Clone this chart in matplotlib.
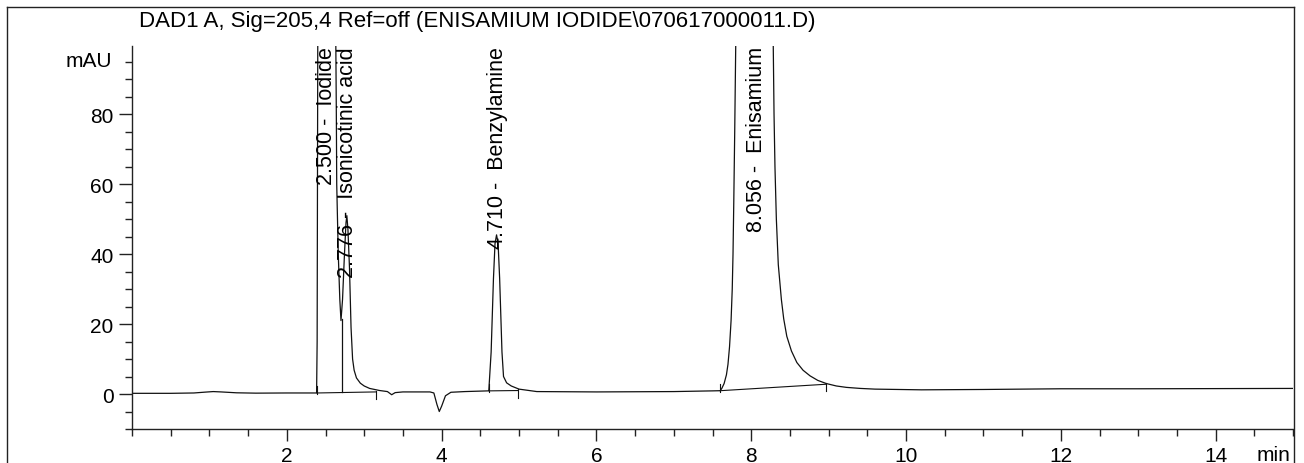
import matplotlib
matplotlib.use("Agg")
import matplotlib.pyplot as plt
from matplotlib.lines import Line2D
from matplotlib.ticker import MultipleLocator

plt.rcParams['font.family'] = ['Liberation Sans', 'DejaVu Sans']

title = "DAD1 A, Sig=205,4 Ref=off (ENISAMIUM IODIDE\\070617000011.D)"

# chromatogram trace (time in min, signal in mAU)
time_min = [0.00, 0.50, 0.80, 0.95, 1.05, 1.15, 1.35, 1.60, 2.00, 2.30, 2.385,
            2.392, 2.40, 2.43, 2.50, 2.58, 2.63, 2.640, 2.645, 2.665, 2.685, 2.70,
            2.72, 2.745, 2.765, 2.776, 2.79, 2.81, 2.83, 2.85, 2.87, 2.90, 2.95,
            3.00, 3.07, 3.20, 3.30, 3.355, 3.40, 3.50, 3.85, 3.90, 3.94, 3.97,
            4.00, 4.05, 4.12, 4.30, 4.60, 4.61, 4.64, 4.67, 4.69, 4.71, 4.73,
            4.75, 4.78, 4.80, 4.84, 4.90, 5.00, 5.23, 6.00, 7.00, 7.50, 7.60,
            7.62, 7.65, 7.68, 7.70, 7.72, 7.74, 7.755, 7.765, 7.775, 7.787, 7.80,
            7.85, 7.95, 8.056, 8.15, 8.23, 8.27, 8.285, 8.295, 8.307, 8.325, 8.35,
            8.39, 8.42, 8.46, 8.52, 8.59, 8.67, 8.76, 8.86, 8.97, 9.10, 9.23,
            9.41, 9.60, 10.20, 11.00, 12.00, 13.00, 14.00, 15.00]
signal_mau = [0.2, 0.2, 0.3, 0.55, 0.7, 0.6, 0.35, 0.25, 0.3, 0.3, 0.3,
              15.0, 99.5, 200.0, 300.0, 200.0, 110.0, 80.0, 60.0, 40.0, 27.0, 21.0,
              27.0, 40.0, 49.0, 51.0, 47.0, 36.0, 19.0, 10.0, 6.8, 4.6, 3.1,
              2.3, 1.6, 1.0, 0.7, -0.2, 0.4, 0.6, 0.6, 0.3, -3.0, -5.0,
              -3.5, -0.5, 0.5, 0.7, 0.9, 1.0, 12.0, 33.0, 43.0, 45.5, 43.0,
              33.0, 12.0, 5.0, 3.2, 2.3, 1.4, 0.7, 0.6, 0.7, 0.9, 0.95,
              1.6, 3.0, 5.5, 8.5, 13.5, 21.0, 30.0, 40.0, 55.0, 75.0, 99.5,
              260.0, 480.0, 560.0, 480.0, 260.0, 140.0, 99.5, 80.0, 65.0, 50.0, 37.0,
              27.0, 21.5, 16.5, 12.3, 9.0, 6.8, 5.2, 3.9, 3.0, 2.3, 1.9,
              1.6, 1.4, 1.2, 1.3, 1.5, 1.5, 1.55, 1.6]

# peak annotations
peak_rt = [2.500, 2.776, 4.710, 8.056]
peak_names = ["Iodide", "Isonicotinic acid", "Benzylamine", "Enisamium"]

# integration baselines: (start time, start level, end time, end level)
base_start_t = [2.39, 4.61, 7.60]
base_start_y = [0.3, 0.9, 0.95]
base_end_t = [3.15, 4.99, 8.97]
base_end_y = [0.6, 1.0, 2.8]
# drop line between the two first peaks
drop_t = [2.709]
drop_low = [0.45]
drop_high = [21.5]

x_major = [2, 4, 6, 8, 10, 12, 14]
y_major = [0, 20, 40, 60, 80]

fig = plt.figure(figsize=(13.04, 4.64), dpi=100)
ax = fig.add_axes([132/1304, 1-430/464, (1293-132)/1304, (430-47)/464])

lc = '#111111'
ax.plot(time_min, signal_mau, color=lc, lw=0.9)

# integration baselines and markers
for ts, ys, te, ye in zip(base_start_t, base_start_y, base_end_t, base_end_y):
    ax.plot([ts, te], [ys, ye], color=lc, lw=0.8)
    ax.plot([ts, ts], [ys - 0.3, ys + 2.0], color=lc, lw=0.8)
    ax.plot([te, te], [ye + 0.3, ye - 2.0], color=lc, lw=0.8)
for t, lo, hi in zip(drop_t, drop_low, drop_high):
    ax.plot([t, t], [lo, hi], color=lc, lw=0.9)

ax.set_xlim(0, 15)
ax.set_ylim(-10, 99.5)

for rt, name in zip(peak_rt, peak_names):
    ax.text(rt + 0.01, 99.5, f"{rt:.3f} -  {name}", rotation=90, va='top',
            ha='center', fontsize=15.5, color='black', clip_on=False)

ax.set_xticks(x_major)
ax.set_xticklabels([str(v) for v in x_major])
ax.xaxis.set_minor_locator(MultipleLocator(0.5))
ax.set_yticks(y_major)
ax.set_yticklabels([str(v) for v in y_major])
ax.yaxis.set_minor_locator(MultipleLocator(5))

for s in ['top', 'right']:
    ax.spines[s].set_visible(False)
for s in ['left', 'bottom']:
    ax.spines[s].set_color('#222222')
    ax.spines[s].set_linewidth(1.0)

ax.tick_params(axis='y', which='major', length=9.4, width=1.0, color='#222222',
               labelsize=15, pad=4)
ax.tick_params(axis='y', which='minor', length=5, width=1.0, color='#222222')
ax.tick_params(axis='x', which='major', length=8.6, width=1.0, color='#222222',
               labelsize=15, pad=4)
ax.tick_params(axis='x', which='minor', length=5, width=1.0, color='#222222')

ax.annotate("mAU", xy=(0, 95.4), xycoords=('axes fraction', 'data'),
            xytext=(-20, 0), textcoords='offset pixels', ha='right', va='center',
            fontsize=15, annotation_clip=False)
ax.annotate("min", xy=(1, 0), xycoords='axes fraction', xytext=(-3, -16),
            textcoords='offset pixels', ha='right', va='top', fontsize=15,
            annotation_clip=False)

fig.text(139/1304, 1-22/464, title, ha='left', va='center', fontsize=16)

# outer frame
fx0, fx1, fy1 = 7/1304, 1293.5/1304, 1-8/464
for xs, ys in [([fx0, fx0], [-0.01, fy1]), ([fx0, fx1], [fy1, fy1]), ([fx1, fx1], [-0.01, fy1])]:
    fig.add_artist(Line2D(xs, ys, transform=fig.transFigure, color='#222222', lw=1.0))

fig.savefig("out.png", dpi=100)
